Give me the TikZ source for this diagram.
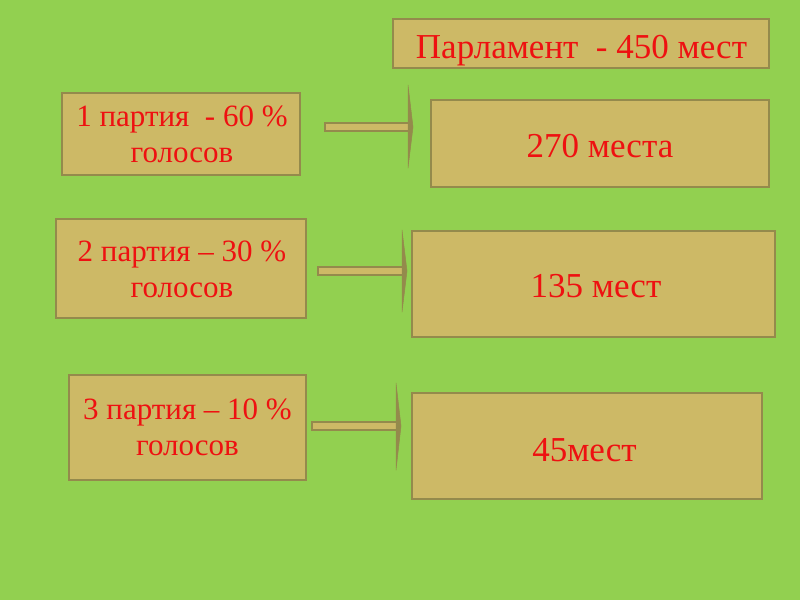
\documentclass[tikz,border=0pt]{standalone}
\usepackage{fontspec}
\setmainfont{Liberation Serif}
\usetikzlibrary{calc}
\definecolor{bg}{HTML}{92D050}
\definecolor{boxfill}{HTML}{CDB966}
\definecolor{boxline}{HTML}{948A4C}
\definecolor{txt}{HTML}{EE1111}
\tikzset{
  tbox/.style={draw=boxline, line width=2.2pt, fill=boxfill},
  ltext/.style={text=txt, font=\fontsize{31}{36.5}\selectfont, align=center, inner sep=0pt},
  rtext/.style={text=txt, font=\fontsize{35}{40}\selectfont, inner sep=0pt, anchor=base},
  shaft/.style={draw=boxline, line width=1.8pt, fill=boxfill},
  head/.style={fill=boxline, draw=boxline, line width=0.5pt, line join=round},
}
\begin{document}
\begin{tikzpicture}[x=1pt,y=-1pt]
\fill[bg] (0,0) rectangle (800,600);
\useasboundingbox (0,0) rectangle (800,600);
% boxes
\draw[tbox] (393,19) rectangle (769,68);
\node[rtext] (p) at (581.5,58) {Парламент \ - 450 мест};
\draw[tbox] (62,93) rectangle (300,175);
\node[ltext] (l1) at (182,134.5) {1 партия \ - 60 \%\\голосов};
\draw[tbox] (431,100) rectangle (769,187);
\node[rtext] (r1) at (600,157) {270 места};
\draw[tbox] (56,219) rectangle (306,318);
\node[ltext] (l2) at (182,269.5) {2 партия – 30 \%\\голосов};
\draw[tbox] (412,231) rectangle (775,337);
\node[rtext] (r2) at (596,297) {135 мест};
\draw[tbox] (69,375) rectangle (306,480);
\node[ltext] (l3) at (187.5,427.5) {3 партия – 10 \%\\голосов};
\draw[tbox] (412,393) rectangle (762,499);
\node[rtext] (r3) at (584.5,461) {45мест};
% arrows
\coordinate (a1s) at (325,127); \coordinate (a1e) at (408,127);
\coordinate (a2s) at (318,271); \coordinate (a2e) at (402,271);
\coordinate (a3s) at (312,426); \coordinate (a3e) at (396,426);
\foreach \s/\e/\t/\b in {a1s/a1e/85/168, a2s/a2e/230/312, a3s/a3e/383/470}{
  \draw[shaft] ($(\s)+(0,-4)$) rectangle ($(\e)+(1,4)$);
  \path let \p1=(\e) in coordinate (tt) at (\x1,\t) coordinate (bb) at (\x1,\b);
  \draw[head] (tt) -- ($(\e)+(5,0)$) -- (bb) -- cycle;
}
\end{tikzpicture}
\end{document}
